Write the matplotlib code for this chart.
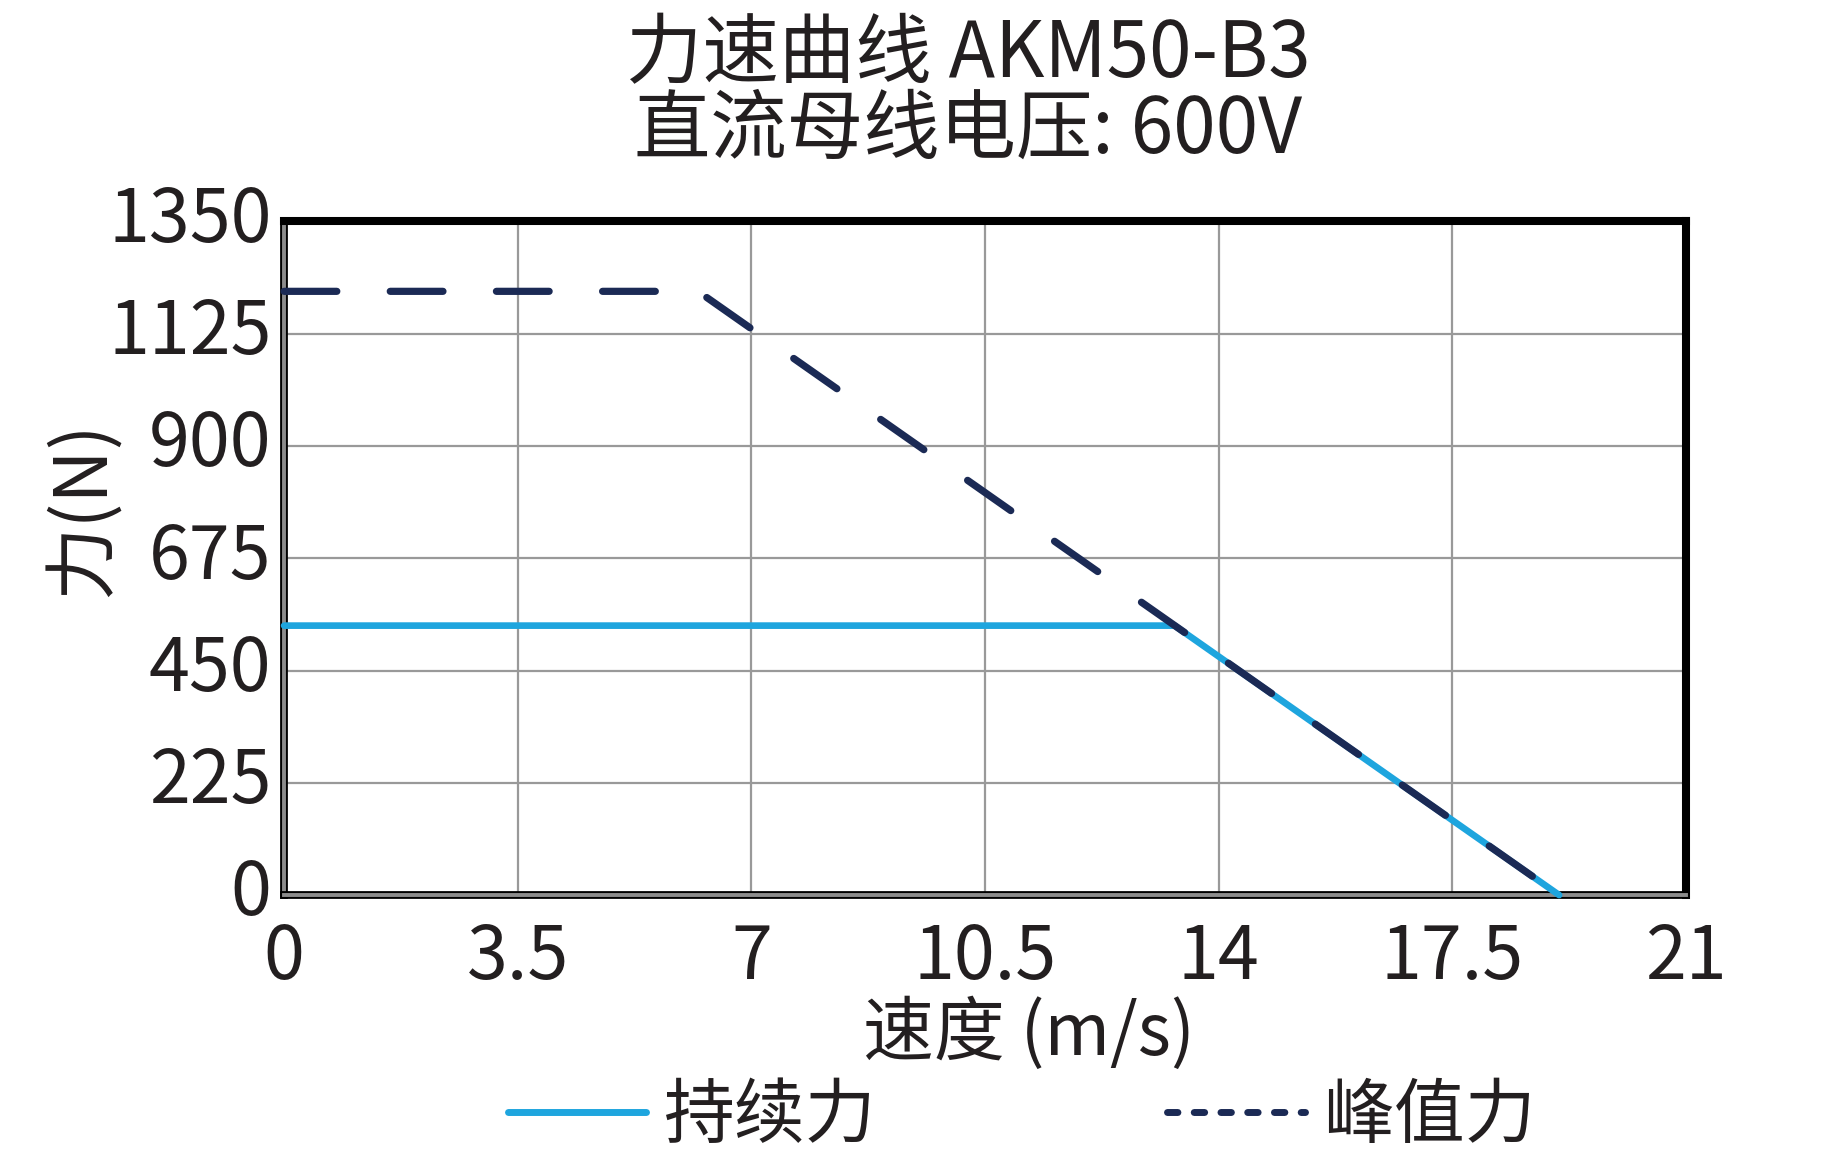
import matplotlib
matplotlib.use("Agg")
import matplotlib.pyplot as plt
import matplotlib.patheffects as pe
from matplotlib.lines import Line2D
from matplotlib.transforms import ScaledTranslation

plt.rcParams["font.family"] = ["Noto Sans CJK SC", "DejaVu Sans"]

# data
speed_cont = [0, 13.34, 19.1]
force_cont = [540, 540, 0]
speed_peak = [0, 6.2, 19.1]
force_peak = [1210, 1210, 0]

x_ticks = [0, 3.5, 7, 10.5, 14, 17.5, 21]
x_tick_labels = ["0", "3.5", "7", "10.5", "14", "17.5", "21"]
y_ticks = [0, 225, 450, 675, 900, 1125, 1350]

title_1 = "力速曲线 AKM50-B3"
title_2 = "直流母线电压: 600V"
label_cont = "持续力"
label_peak = "峰值力"

CONT_COLOR = "#1ea5de"
PEAK_COLOR = "#1b2a55"
TXT = "#231f20"

fig = plt.figure(figsize=(18.34, 11.7), dpi=100)
ax = fig.add_axes([0.1549, 0.2350, 0.7644, 0.5757])

ax.plot(speed_cont, force_cont, color=CONT_COLOR, linewidth=4.8,
        solid_capstyle="round", zorder=3, clip_on=False)
ax.plot(speed_peak, force_peak, color=PEAK_COLOR, linewidth=5.2,
        linestyle=(0, (7.3, 7.4)), dash_capstyle="round", zorder=4,
        clip_on=False)

ax.set_xlim(0, 21)
ax.set_ylim(0, 1350)
ax.set_xticks(x_ticks)
ax.set_xticklabels(x_tick_labels)
ax.set_yticks(y_ticks)
ax.tick_params(axis="both", length=0, labelsize=53, colors=TXT)
ax.tick_params(axis="y", pad=9)
ax.tick_params(axis="x", pad=18)
ax.grid(True, color="#999999", linewidth=1.6)
ax.set_axisbelow(True)

# y tick numbers sit a little above their grid lines in the reference
shift_up = ScaledTranslation(0, 0.09, fig.dpi_scale_trans)
for lbl in ax.get_yticklabels():
    lbl.set_transform(lbl.get_transform() + shift_up)

for side in ("top", "right"):
    ax.spines[side].set_color("black")
    ax.spines[side].set_linewidth(5.8)
for side in ("left", "bottom"):
    ax.spines[side].set_linewidth(5.6)
    ax.spines[side].set_color("black")
    ax.spines[side].set_path_effects([
        pe.Stroke(linewidth=5.6, foreground="black"),
        pe.Stroke(linewidth=2.8, foreground="#8c8c8c"),
    ])

ax.set_xlabel("速度 (m/s)", fontsize=51, color=TXT)
ax.xaxis.set_label_coords(0.531, -0.207)
ax.xaxis.label.set_va("center")
ax.set_ylabel("力(N)", fontsize=53, color=TXT)
ax.yaxis.set_label_coords(-0.1427, 0.574)
ax.yaxis.label.set_va("center")

fig.text(0.528, 0.953, title_1, ha="center", va="center", fontsize=55, color=TXT)
fig.text(0.528, 0.888, title_2, ha="center", va="center", fontsize=55, color=TXT)

handles = [
    Line2D([], [], color=CONT_COLOR, linewidth=5.0, solid_capstyle="round"),
    Line2D([], [], color=PEAK_COLOR, linewidth=5.0, linestyle=(0, (1.5, 2.35)),
           dash_capstyle="round"),
]
fig.legend(handles, [label_cont, label_peak], loc="center",
           bbox_to_anchor=(0.557, 0.046), ncol=2, frameon=False,
           fontsize=51, handlelength=1.95, handletextpad=0.25,
           columnspacing=4.1, labelcolor=TXT)

fig.savefig("out.png", dpi=100, facecolor="white")
